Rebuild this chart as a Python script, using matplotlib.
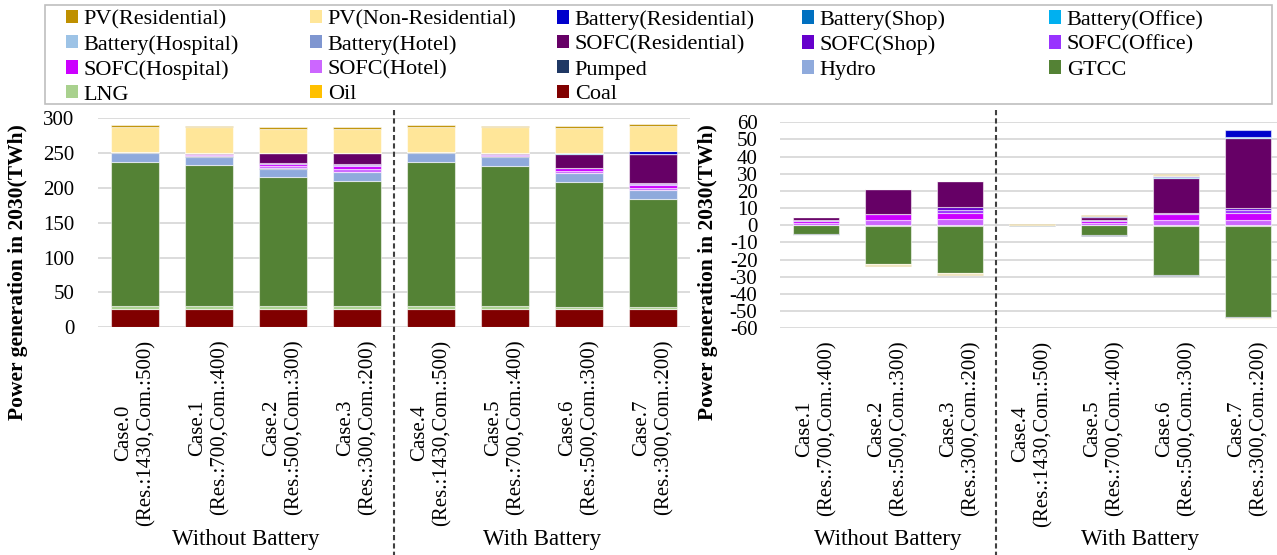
import numpy as np
import matplotlib.pyplot as plt
from matplotlib.patches import Rectangle, Patch
from matplotlib.transforms import blended_transform_factory

plt.rcParams['font.family'] = 'Liberation Serif'
plt.rcParams['axes.unicode_minus'] = False

W, H = 1277, 555

case_labels = ["Case.0\n(Res.:1430,Com.:500)", "Case.1\n(Res.:700,Com.:400)",
               "Case.2\n(Res.:500,Com.:300)", "Case.3\n(Res.:300,Com.:200)",
               "Case.4\n(Res.:1430,Com.:500)", "Case.5\n(Res.:700,Com.:400)",
               "Case.6\n(Res.:500,Com.:300)", "Case.7\n(Res.:300,Com.:200)"]
diff_labels = case_labels[1:]

# series names in legend order (top of stack first)
names = ["PV(Residential)", "PV(Non-Residential)", "Battery(Residential)", "Battery(Shop)",
         "Battery(Office)", "Battery(Hospital)", "Battery(Hotel)", "SOFC(Residential)",
         "SOFC(Shop)", "SOFC(Office)", "SOFC(Hospital)", "SOFC(Hotel)", "Pumped",
         "Hydro", "GTCC", "LNG", "Oil", "Coal"]
colors = ["#BF9000", "#FFE699", "#0000CC", "#0070C0", "#00B0F0", "#9DC3E6", "#7F96D0",
          "#660066", "#6600CC", "#9933FF", "#CC00FF", "#CC66FF", "#1F3864",
          "#8FAADC", "#548235", "#A9D18E", "#FFC000", "#800000"]

# generation by case (TWh), Case.0 .. Case.7
pv_res = [2.4, 2.3, 2.9, 2.9, 2.4, 2.3, 2.8, 2.4]
pv_nonres = [36.6, 36.1, 35.0, 35.5, 36.5, 36.4, 35.2, 36.5]
bat_res = [0, 0, 0, 0, 0.3, 0.4, 0.6, 3.9]
bat_shop = [0, 0, 0, 0, 0, 0, 0.1, 0]
bat_office = [0, 0, 0, 0, 0.1, 0.1, 0.3, 0.4]
bat_hospital = [0, 0, 0, 0, 0, 0, 0, 0]
bat_hotel = [0, 0, 0, 0, 0, 0, 0, 0]
sofc_res = [0, 1.6, 14.8, 15.3, 0, 1.6, 20.8, 41.2]
sofc_shop = [0, 0.2, 0.1, 1.5, 0, 0.2, 0.2, 1.0]
sofc_office = [0, 0.4, 0.2, 1.7, 0, 0.4, 0.2, 1.6]
sofc_hospital = [0, 1.3, 3.0, 3.7, 0, 1.3, 3.3, 3.9]
sofc_hotel = [0, 1.3, 3.3, 3.7, 0, 1.3, 3.3, 3.3]
pumped = [1.0, 1.0, 1.0, 1.0, 0.8, 0.8, 0.6, 0.4]
hydro = [12.5, 12.5, 12.5, 12.5, 12.5, 12.5, 12.5, 12.5]
gtcc = [207.6, 202.4, 185.1, 180.1, 207.5, 201.8, 178.7, 154.4]
lng = [3.4, 3.4, 3.2, 3.2, 3.4, 3.4, 3.0, 3.0]
oil = [0.3, 0.3, 0.3, 0.3, 0.3, 0.3, 0.3, 0.3]
coal = [26.5, 26.5, 26.5, 26.5, 26.5, 26.5, 26.5, 26.5]

# change from Case.0 (TWh), Case.1 .. Case.7
d_pv_res = [-0.1, -0.2, -0.2, 0.3, 0.3, 0.4, -0.2]
d_pv_nonres = [-0.4, -0.6, -0.8, 0.2, 0.5, 0.6, -0.4]
d_bat_res = [0, 0, 0, 0.1, 0.3, 0.5, 4.3]
d_bat_shop = [0, 0, 0, 0, 0, 0.1, 0]
d_bat_office = [0, 0, 0, 0, 0.1, 0.3, 0.2]
d_bat_hospital = [0, 0, 0, 0, 0, 0, 0]
d_bat_hotel = [0, 0, 0, 0, 0, 0, 0]
d_sofc_res = [1.6, 14.8, 15.3, 0, 1.6, 20.8, 41.2]
d_sofc_shop = [0.2, 0.1, 1.5, 0, 0.2, 0.2, 1.0]
d_sofc_office = [0.4, 0.2, 1.7, 0, 0.4, 0.2, 1.6]
d_sofc_hospital = [1.3, 3.0, 3.7, 0, 1.3, 3.3, 3.9]
d_sofc_hotel = [1.3, 3.3, 3.7, 0, 1.3, 3.3, 3.3]
d_pumped = [-0.1, -0.1, -0.1, -0.3, -0.2, -0.5, -0.4]
d_hydro = [0, 0, 0, 0, 0, 0, 0]
d_gtcc = [-5.2, -22.5, -27.5, -0.1, -5.8, -28.9, -53.2]
d_lng = [-0.1, -0.2, -0.2, 0, -0.1, -0.3, -0.3]
d_oil = [0, 0, 0, 0, 0, 0, 0]
d_coal = [0, 0, 0, 0, 0, 0, 0]

gen = [pv_res, pv_nonres, bat_res, bat_shop, bat_office, bat_hospital, bat_hotel,
       sofc_res, sofc_shop, sofc_office, sofc_hospital, sofc_hotel, pumped, hydro,
       gtcc, lng, oil, coal]
diff = [d_pv_res, d_pv_nonres, d_bat_res, d_bat_shop, d_bat_office, d_bat_hospital,
        d_bat_hotel, d_sofc_res, d_sofc_shop, d_sofc_office, d_sofc_hospital,
        d_sofc_hotel, d_pumped, d_hydro, d_gtcc, d_lng, d_oil, d_coal]


def stacked(ax, series, n):
    x = np.arange(n)
    pos = np.zeros(n)
    neg = np.zeros(n)
    # coal goes at the bottom, so stack in reverse legend order
    for vals, c in zip(series[::-1], colors[::-1]):
        v = np.asarray(vals, dtype=float)
        base = np.where(v >= 0, pos, neg)
        ax.bar(x, v, 0.64, bottom=base, color=c, edgecolor=(1, 1, 1, 0.55),
               linewidth=0.8, zorder=2)
        pos = pos + np.where(v >= 0, v, 0)
        neg = neg + np.where(v < 0, v, 0)
    ax.set_xlim(-0.5, n - 0.5)
    ax.set_xticks(x)
    for s in ax.spines.values():
        s.set_visible(False)
    ax.yaxis.grid(True, color="#d9d9d9", linewidth=1.3)
    ax.set_axisbelow(True)


fig = plt.figure(figsize=(W / 100, H / 100), dpi=100)

ax1 = fig.add_axes([98 / W, (H - 327.3) / H, 592 / W, 209 / H])
stacked(ax1, gen, 8)
ax1.set_ylim(0, 300)
ax1.set_yticks(np.arange(0, 301, 50))
ax1.set_xticklabels(case_labels, rotation=90, multialignment="center")
ax1.tick_params(axis="x", length=0, pad=9, labelsize=15)
ax1.tick_params(axis="y", length=0, pad=17, labelsize=15)

ax2 = fig.add_axes([779.7 / W, (H - 328.3) / H, 504.3 / W, 206 / H])
stacked(ax2, diff, 7)
ax2.set_ylim(-60, 60)
ax2.set_yticks(np.arange(-60, 61, 10))
ax2.set_xticklabels(diff_labels, rotation=90, multialignment="center")
ax2.tick_params(axis="x", length=0, pad=9, labelsize=15)
ax2.tick_params(axis="y", length=0, pad=16, labelsize=15)

# y labels
for xp in (18, 708):
    fig.text(xp / W, (H - 272) / H, "Power generation in 2030(TWh)", rotation=90,
             ha="center", va="center", fontsize=15.5, fontweight="bold")

# battery / no-battery separators and group names
for ax, xsep, groups in ((ax1, 3.5, ((1.5, "Without Battery"), (5.5, "With Battery"))),
                         (ax2, 2.5, ((1.0, "Without Battery"), (4.5, "With Battery")))):
    tr = blended_transform_factory(ax.transData, fig.transFigure)
    ax.plot([xsep, xsep], [(H - 110) / H, 0], transform=tr, clip_on=False,
            color="#404040", linewidth=1.5, linestyle=(0, (2.5, 1.5)), zorder=5)
    for gx, txt in groups:
        ax.text(gx, (H - 540) / H, txt, transform=tr, ha="center", va="center",
                fontsize=16.5)

# legend: five columns laid out row by row
handles = [Patch(facecolor=c, edgecolor="none") for c in colors]
col_x = [66, 310, 557, 802, 1049]
for ci, cx in enumerate(col_x):
    idx = list(range(ci, len(names), 5))
    fig.legend([handles[i] for i in idx], [names[i] for i in idx],
               loc="upper left", bbox_to_anchor=(cx / W, (H - 10) / H),
               frameon=False, fontsize=16, borderpad=0, borderaxespad=0,
               handlelength=0.55, handleheight=0.55, handletextpad=0.25,
               labelspacing=0.24)
fig.patches.append(Rectangle((45 / W, (H - 104) / H), 1227 / W, 99 / H,
                             transform=fig.transFigure, fill=False,
                             edgecolor="#bfbfbf", linewidth=1.2))

fig.savefig("out.png", dpi=100)
